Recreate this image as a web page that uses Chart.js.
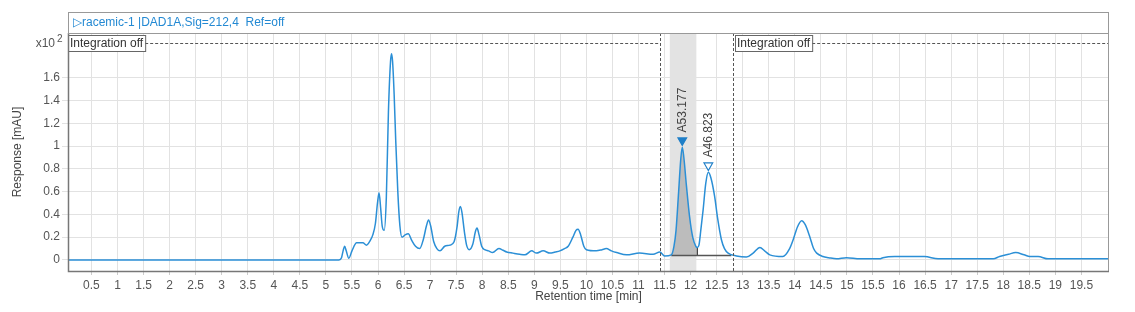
<!DOCTYPE html>
<html>
<head>
<meta charset="utf-8">
<script src="https://cdn.jsdelivr.net/npm/chart.js@4"></script>
<style>
  body { margin: 0; background: #fff; }
  #wrap { width: 1135px; height: 312px; }
</style>
</head>
<body>
<div id="wrap"><canvas id="chromatogram"></canvas></div>
<script>
const retentionTime = [
  0.05, 5.25, 5.3, 5.33, 5.36, 5.39, 5.44, 5.5, 5.59, 5.71, 5.78, 5.85, 5.9, 5.95, 5.99,
  6.02, 6.05, 6.08, 6.12, 6.16, 6.2, 6.24, 6.26, 6.28, 6.31, 6.34, 6.38, 6.42, 6.46, 6.52,
  6.58, 6.65, 6.72, 6.8, 6.87, 6.93, 6.97, 7.01, 7.07, 7.13, 7.19, 7.28, 7.38, 7.46, 7.52,
  7.55, 7.58, 7.61, 7.66, 7.7, 7.75, 7.82, 7.87, 7.9, 7.94, 7.99, 8.05, 8.12, 8.2, 8.32,
  8.4, 8.47, 8.59, 8.72, 8.82, 8.95, 9.04, 9.17, 9.3, 9.4, 9.49, 9.58, 9.65, 9.74, 9.8,
  9.84, 9.89, 9.95, 10.0, 10.19, 10.3, 10.38, 10.48, 10.58, 10.77, 11.02, 11.28, 11.41, 11.5,
  11.63, 11.68, 11.72, 11.77, 11.81, 11.84, 11.87, 11.92, 11.98, 12.04, 12.1, 12.13, 12.16,
  12.2, 12.24, 12.29, 12.34, 12.39, 12.46, 12.52, 12.59, 12.65, 12.72, 12.88, 13.07, 13.2,
  13.33, 13.42, 13.52, 13.77, 13.9, 13.97, 14.05, 14.13, 14.2, 14.29, 14.36, 14.42, 14.54,
  14.65, 14.8, 14.99, 15.25, 15.63, 15.69, 15.92, 16.49, 16.75, 17.81, 17.93, 18.1, 18.24,
  18.4, 18.51, 18.67, 18.86, 20.03
];
const response = [
  0, 0, 0.02, 0.08, 0.12, 0.08, 0.015, 0.08, 0.15, 0.15, 0.13, 0.17, 0.22, 0.32, 0.5,
  0.59, 0.46, 0.3, 0.26, 0.55, 1.3, 1.74, 1.81, 1.74, 1.45, 1.05, 0.6, 0.3, 0.2, 0.22,
  0.23, 0.17, 0.12, 0.1, 0.18, 0.3, 0.35, 0.3, 0.16, 0.1, 0.08, 0.12, 0.13, 0.16, 0.3,
  0.42, 0.47, 0.42, 0.24, 0.13, 0.09, 0.14, 0.25, 0.28, 0.22, 0.12, 0.09, 0.08, 0.065, 0.1,
  0.085, 0.07, 0.06, 0.05, 0.045, 0.08, 0.06, 0.08, 0.06, 0.07, 0.08, 0.1, 0.12, 0.2, 0.26,
  0.27, 0.22, 0.12, 0.09, 0.08, 0.09, 0.1, 0.08, 0.065, 0.045, 0.06, 0.05, 0.07, 0.035,
  0.045, 0.12, 0.26, 0.6, 0.88, 0.99, 0.9, 0.65, 0.38, 0.2, 0.12, 0.11, 0.13,
  0.28, 0.44, 0.67, 0.77, 0.72, 0.56, 0.36, 0.18, 0.1, 0.06, 0.035, 0.025, 0.06,
  0.11, 0.08, 0.045, 0.03, 0.1, 0.18, 0.29, 0.345, 0.31, 0.2, 0.1, 0.06, 0.03,
  0.02, 0.01, 0.02, 0.01, 0.01, 0.02, 0.03, 0.03, 0.01, 0.01, 0.03, 0.05, 0.065,
  0.045, 0.03, 0.03, 0.01, 0.01
];

const xTicks = [0.5, 1, 1.5, 2, 2.5, 3, 3.5, 4, 4.5, 5, 5.5, 6, 6.5, 7, 7.5, 8, 8.5, 9, 9.5, 10,
  10.5, 11, 11.5, 12, 12.5, 13, 13.5, 14, 14.5, 15, 15.5, 16, 16.5, 17, 17.5, 18, 18.5, 19, 19.5];
const yTicks = [0, 0.2, 0.4, 0.6, 0.8, 1, 1.2, 1.4, 1.6];

const peakTimes = [11.84, 12.34];
const peakMarks = [1.05, 0.83];
const peakLabels = ['A53.177', 'A46.823'];
const integratedRange = [11.63, 12.13];
const baselineRange = [11.63, 12.78];
const baselineLevel = 0.04;
const highlightBand = [11.6, 12.11];
const integrationOff = [[0.05, 11.41], [12.81, 20.03]];

const xMin = 0.05, xMax = 20.03;
const yMin = -0.097, yMax = 1.993;

const trace = retentionTime.map((t, i) => ({x: t, y: response[i]}));
const areaPts = trace.filter(p => p.x >= integratedRange[0] && p.x <= integratedRange[1]);
const cutY = response[retentionTime.indexOf(integratedRange[1])];

const FONT = 'Liberation Sans, Arial, sans-serif';

const decor = {
  id: 'decor',
  beforeDatasetsDraw(chart) {
    const {ctx, chartArea: a, scales: {x}} = chart;
    const b0 = x.getPixelForValue(highlightBand[0]);
    const b1 = x.getPixelForValue(highlightBand[1]);
    ctx.save();
    ctx.fillStyle = '#e3e3e3';
    ctx.fillRect(b0, a.top, b1 - b0, a.bottom - a.top);
    ctx.restore();
  },
  afterDatasetsDraw(chart) {
    const {ctx, chartArea: a, scales: {x, y}} = chart;
    ctx.save();

    // integration off regions
    ctx.font = '12px ' + FONT;
    ctx.textBaseline = 'middle';
    integrationOff.forEach(([s, e]) => {
      const ps = Math.max(x.getPixelForValue(s), a.left);
      const pe = Math.min(x.getPixelForValue(e), a.right);
      ctx.strokeStyle = '#555';
      ctx.lineWidth = 1;
      ctx.setLineDash([3, 2]);
      ctx.beginPath();
      if (s > xMin) { ctx.moveTo(Math.round(ps) + 0.5, a.top); ctx.lineTo(Math.round(ps) + 0.5, a.bottom); }
      if (e < xMax) { ctx.moveTo(Math.round(pe) + 0.5, a.top); ctx.lineTo(Math.round(pe) + 0.5, a.bottom); }
      ctx.stroke();
      const bx = s > xMin ? Math.round(ps) + 2 : Math.round(ps);
      const label = 'Integration off';
      const w = ctx.measureText(label).width + 4;
      const by = a.top + 10;
      ctx.beginPath();
      ctx.moveTo(bx + w, by + 0.5);
      ctx.lineTo(pe, by + 0.5);
      ctx.stroke();
      ctx.setLineDash([]);
      ctx.fillStyle = '#fff';
      ctx.fillRect(bx, a.top + 2, w, 16);
      ctx.strokeStyle = '#666';
      ctx.strokeRect(bx + 0.5, a.top + 2.5, w, 16);
      ctx.fillStyle = '#333';
      ctx.textAlign = 'left';
      ctx.fillText(label, bx + 2, a.top + 10.5);
    });

    // peak annotations
    ctx.fillStyle = '#444';
    ctx.font = '12px ' + FONT;
    peakTimes.forEach((t, i) => {
      const px = x.getPixelForValue(t);
      const py = y.getPixelForValue(peakMarks[i]) - 8;
      ctx.save();
      ctx.translate(px, py);
      ctx.rotate(-Math.PI / 2);
      ctx.textAlign = 'left';
      ctx.textBaseline = 'middle';
      ctx.fillText(peakLabels[i], 0, 0);
      ctx.restore();
    });

    // frame
    ctx.strokeStyle = '#999';
    ctx.lineWidth = 1;
    ctx.strokeRect(a.left + 0.5, a.top + 0.5, a.right - a.left - 1, a.bottom - a.top);
    ctx.strokeStyle = '#777';
    ctx.lineWidth = 1.5;
    ctx.beginPath();
    ctx.moveTo(a.left + 0.5, a.top);
    ctx.lineTo(a.left + 0.5, a.bottom + 0.5);
    ctx.lineTo(a.right, a.bottom + 0.5);
    ctx.stroke();

    // title box
    ctx.lineWidth = 1;
    ctx.strokeStyle = '#999';
    ctx.strokeRect(a.left + 0.5, 12.5, a.right - a.left - 1, a.top - 12);
    ctx.fillStyle = '#2389d3';
    ctx.font = '12px ' + FONT;
    ctx.textAlign = 'left';
    ctx.textBaseline = 'middle';
    ctx.fillText('\u25B7racemic-1 |DAD1A,Sig=212,4  Ref=off', a.left + 5, 22.5);

    // exponent
    ctx.fillStyle = '#555';
    ctx.textAlign = 'right';
    ctx.fillText('x10', 55, a.top + 11);
    ctx.font = '10px ' + FONT;
    ctx.textAlign = 'left';
    ctx.fillText('2', 57, a.top + 6);

    ctx.restore();
  }
};

new Chart(document.getElementById('chromatogram'), {
  type: 'scatter',
  data: {
    datasets: [
      {
        data: peakTimes.map((t, i) => ({x: t, y: peakMarks[i]})),
        pointStyle: 'triangle',
        rotation: 180,
        pointRadius: 5,
        pointBorderWidth: 1.2,
        pointBackgroundColor: ['#1f7fc8', '#ffffff'],
        pointBorderColor: '#1f7fc8',
        order: -1
      },
      {
        data: trace,
        showLine: true,
        pointRadius: 0,
        borderColor: '#2b8fd6',
        borderWidth: 1.5,
        cubicInterpolationMode: 'monotone',
        order: 0
      },
      {
        data: [{x: baselineRange[0], y: baselineLevel}, {x: baselineRange[1], y: baselineLevel}],
        showLine: true,
        pointRadius: 0,
        borderColor: '#555',
        borderWidth: 1.5,
        order: 1
      },
      {
        data: [{x: integratedRange[1], y: baselineLevel}, {x: integratedRange[1], y: cutY}],
        showLine: true,
        pointRadius: 0,
        borderColor: '#444',
        borderWidth: 1.2,
        order: 1
      },
      {
        data: areaPts,
        showLine: true,
        pointRadius: 0,
        borderWidth: 0,
        borderColor: 'rgba(0,0,0,0)',
        backgroundColor: '#bcbcbc',
        cubicInterpolationMode: 'monotone',
        fill: {value: baselineLevel},
        order: 2
      }
    ]
  },
  options: {
    responsive: true,
    maintainAspectRatio: false,
    animation: false,
    devicePixelRatio: 1,
    layout: {padding: {top: 33, right: 26, left: 0, bottom: 0}},
    plugins: {legend: {display: false}, tooltip: {enabled: false}},
    scales: {
      x: {
        type: 'linear',
        min: xMin,
        max: xMax,
        afterBuildTicks: s => { s.ticks = xTicks.map(v => ({value: v})); },
        afterFit: s => { s.height = 41; },
        ticks: {
          autoSkip: false,
          maxRotation: 0,
          padding: 3,
          color: '#555',
          font: {family: FONT, size: 12},
          callback: v => String(v)
        },
        grid: {color: '#e2e2e2', tickLength: 4, tickColor: '#ccc'},
        border: {display: false},
        title: {
          display: true,
          text: 'Retention time [min]',
          color: '#444',
          font: {family: FONT, size: 12},
          padding: {top: 0, bottom: 8}
        }
      },
      y: {
        min: yMin,
        max: yMax,
        afterBuildTicks: s => { s.ticks = yTicks.map(v => ({value: v})); },
        afterFit: s => { s.width = 68; },
        ticks: {
          padding: 2,
          color: '#555',
          font: {family: FONT, size: 12},
          callback: v => String(v)
        },
        grid: {color: '#e2e2e2', tickLength: 6, tickColor: '#e2e2e2'},
        border: {display: false},
        title: {
          display: true,
          text: 'Response [mAU]',
          color: '#444',
          font: {family: FONT, size: 12},
          padding: {top: 10, bottom: 0}
        }
      }
    }
  },
  plugins: [decor]
});
</script>
</body>
</html>
